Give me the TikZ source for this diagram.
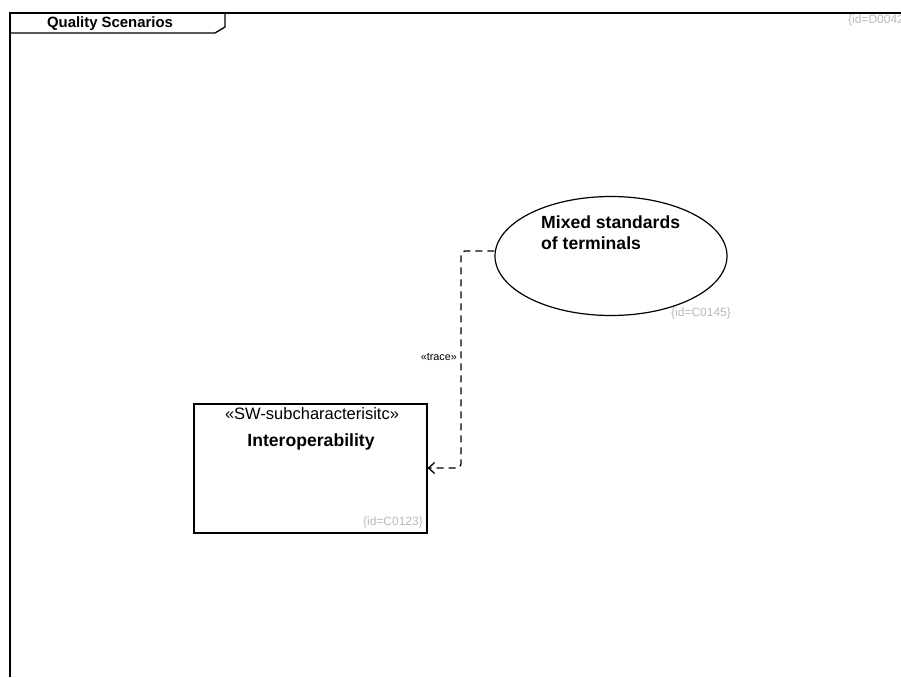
\documentclass[tikz,border=0pt]{standalone}
\usepackage{fontspec}
\setmainfont{Liberation Sans}
\usetikzlibrary{shapes.geometric,arrows.meta}
\definecolor{idgray}{RGB}{185,185,185}
\begin{document}
\begin{tikzpicture}[x=1pt,y=-1pt,
  idtag/.style={font=\fontsize{12}{14}\selectfont, text=idgray, inner sep=0pt},
  trace/.style={draw, line width=1.3pt, dash pattern=on 7pt off 5pt, rounded corners=4pt},
  frameline/.style={draw, line width=1.3pt}]
\useasboundingbox (0,0) rectangle (901,677);
% diagram frame with its name tab
\draw[frameline] (901,13) -- (10,13) -- (10,677);
\draw[frameline] (10,33) -- (215,33) -- (225,27) -- (225,13);
\node[font=\bfseries\fontsize{14.9}{17}\selectfont, inner sep=0pt] (title) at (110,24) {Quality Scenarios};
\node[idtag, anchor=west] (frameid) at (848,20) {\{id=D0042};
% quality scenario
\node[draw, ellipse, line width=1.2pt, minimum width=232, minimum height=119, inner sep=0pt] (scen) at (611,256) {};
\node[font=\bfseries\fontsize{17.6}{21}\selectfont, align=left, anchor=north west, inner sep=0pt] (scentext) at (541,216) {Mixed standards\\of terminals};
\node[idtag, anchor=west] (scenid) at (671,313) {\{id=C0145\}};
% sub-characteristic block
\node[draw, line width=1.2pt, minimum width=233, minimum height=129, inner sep=0pt] (box) at (310.5,468.5) {};
\node[font=\fontsize{16.5}{19}\selectfont, inner sep=0pt] (stereo) at (312,414) {«SW-subcharacterisitc»};
\node[font=\bfseries\fontsize{17.6}{20}\selectfont, inner sep=0pt] (boxname) at (311,442) {Interoperability};
\node[idtag, anchor=east] (boxid) at (423,522) {\{id=C0123\}};
% trace dependency
\coordinate (src) at (scen.west |- 0,251);
\coordinate (tgt) at (box.east |- 0,468);
\draw[trace, -{Straight Barb[length=6pt,width=11pt]}] (src) -- (461,251) -- (461,468) -- (tgt);
\node[font=\fontsize{10.8}{12}\selectfont, inner sep=0pt, anchor=east] (tracelbl) at (457,357) {«trace»};
\end{tikzpicture}
\end{document}
